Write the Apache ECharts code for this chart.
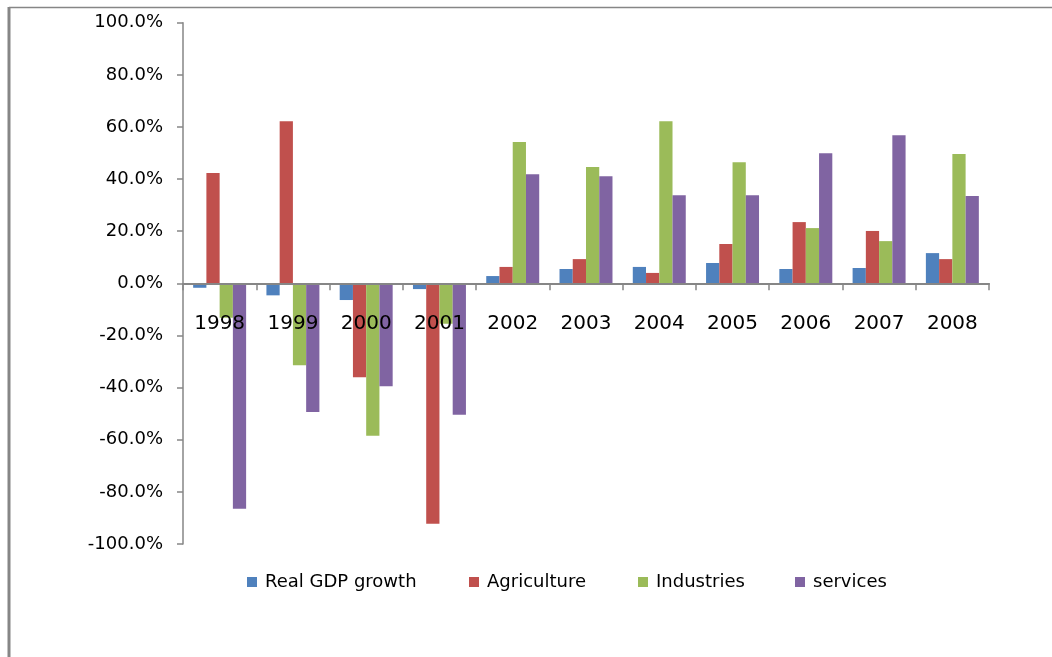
<!DOCTYPE html>
<html>
<head>
<meta charset="utf-8">
<script src="https://cdn.jsdelivr.net/npm/echarts@6/dist/echarts.min.js"></script>
<style>
html,body{margin:0;padding:0;background:#fff;}
#chart{width:1052px;height:657px;}
</style>
</head>
<body>
<div id="chart"></div>
<script>
const years = ['1998','1999','2000','2001','2002','2003','2004','2005','2006','2007','2008'];
const seriesNames = ['Real GDP growth','Agriculture','Industries','services'];
const gdp = [-1.7, -4.6, -6.4, -2.2, 2.8, 5.5, 6.3, 7.8, 5.5, 5.9, 11.6];
const agriculture = [42.3, 62.2, -36.0, -92.2, 6.3, 9.3, 4.0, 15.1, 23.5, 20.1, 9.3];
const industries = [-13.2, -31.4, -58.5, -15.5, 54.2, 44.6, 62.2, 46.5, 21.2, 16.2, 49.6];
const services = [-86.5, -49.4, -39.5, -50.4, 41.9, 41.1, 33.8, 33.8, 49.9, 56.8, 33.5];
const colors = ['#4F81BD','#C0504D','#9BBB59','#8064A2'];
const yTicks = [-100, -80, -60, -40, -20, 0, 20, 40, 60, 80, 100];

const dataSets = [gdp, agriculture, industries, services];
const legendLefts = [247, 469, 638, 795];

const gridTop = 22.7, gridBottom = 113, H = 657;
const plotH = H - gridTop - gridBottom;
const zeroOffset = -(plotH * (0 - yTicks[0]) / (yTicks[yTicks.length-1] - yTicks[0]));

const chart = echarts.init(document.getElementById('chart'), null, {renderer:'canvas'});
chart.setOption({
  animation: false,
  backgroundColor: '#fff',
  color: colors,
  grid: {left: 183, right: 63, top: gridTop, bottom: gridBottom, containLabel: false},
  legend: seriesNames.map((n, i) => ({
    data: [n],
    left: legendLefts[i],
    top: 573,
    icon: 'rect',
    itemWidth: 10,
    itemHeight: 10,
    itemGap: 0,
    padding: 0,
    textStyle: {fontFamily: 'DejaVu Sans', fontSize: 18, color: '#000', padding: [0,0,0,3]}
  })),
  xAxis: {
    type: 'category',
    data: years,
    position: 'bottom',
    offset: zeroOffset,
    z: 10,
    axisLine: {onZero: false, lineStyle: {color: '#868686', width: 2}},
    axisTick: {show: true, length: 7, lineStyle: {color: '#868686', width: 1.5}},
    axisLabel: {fontFamily: 'DejaVu Sans', fontSize: 20, color: '#000', margin: 30}
  },
  yAxis: {
    type: 'value',
    min: yTicks[0],
    max: yTicks[yTicks.length-1],
    interval: 20,
    z: 10,
    axisLine: {show: true, lineStyle: {color: '#868686', width: 1.5}},
    axisTick: {show: true, length: 6, lineStyle: {color: '#868686', width: 1.5}},
    splitLine: {show: false},
    axisLabel: {fontFamily: 'DejaVu Sans', fontSize: 18, color: '#000', margin: 20,
      formatter: v => v.toFixed(1) + '%'}
  },
  series: seriesNames.map((n, i) => ({
    name: n,
    type: 'bar',
    data: dataSets[i],
    barGap: '0%',
    barCategoryGap: '27.7%',
    itemStyle: {color: colors[i]}
  })),
  graphic: [
    {type: 'line', shape: {x1: 9, y1: 7.5, x2: 1052, y2: 7.5}, style: {stroke: '#868686', lineWidth: 1.5}},
    {type: 'line', shape: {x1: 9, y1: 7, x2: 9, y2: 657}, style: {stroke: '#868686', lineWidth: 3}}
  ]
});
</script>
</body>
</html>
